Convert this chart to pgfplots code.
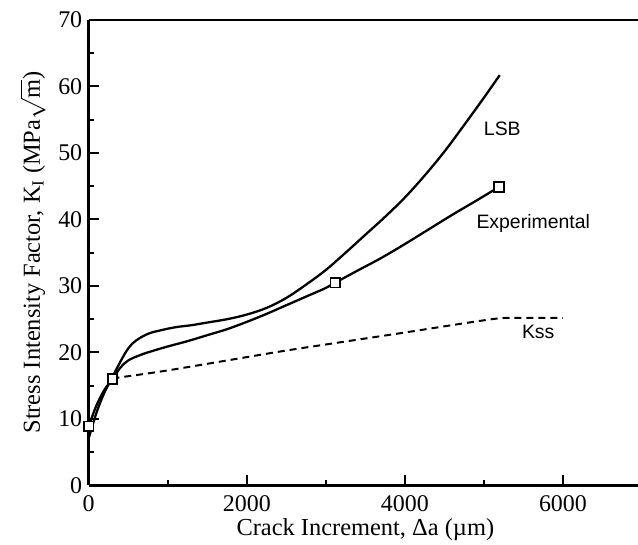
\documentclass[border=0pt]{standalone}
\usepackage{pgfplots}
\pgfplotsset{compat=1.18}
\usepackage{fontspec}
\setmainfont{Liberation Serif}
\newfontfamily\helv{Liberation Sans}
\begin{document}
\begin{tikzpicture}
\begin{axis}[
    width=555pt, height=467pt,
    scale only axis,
    xmin=0, xmax=7000,
    ymin=0, ymax=70,
    axis x line*=box, axis y line*=left,
    xtick={0,2000,4000,6000},
    ytick={0,10,...,70},
    xtick pos=left, ytick pos=left,
    minor x tick num=1, minor y tick num=1,
    tick align=inside,
    major tick length=10pt, minor tick length=5pt,
    every tick/.style={line width=2pt, black},
    axis line style={line width=2.6pt},
    scaled x ticks=false,
    xticklabel style={/pgf/number format/set thousands separator={}, yshift=-7pt},
    yticklabel style={xshift=-3pt},
    /pgf/number format/assume math mode=true,
    tick label style={font=\fontsize{24}{26}\selectfont},
    xlabel={Crack Increment, Δa (µm)},
    ylabel={Stress Intensity Factor, K\textsubscript{I} (MPa$\sqrt{\mathrm{m}}$)},
    label style={font=\fontsize{24.5}{27}\selectfont},
    xlabel style={yshift=0pt},
    ylabel style={inner sep=1pt, yshift=8pt},
    clip=false,
]
\coordinate (bl) at (rel axis cs:0,0);
\coordinate (tl) at (rel axis cs:0,1);
% LSB
\addplot[black, line width=2.3pt, smooth, tension=0.6] coordinates {
(0,7.1) (100,11.0) (200,14.0) (300,16.3) (400,18.6) (500,20.6) (600,21.8)
(750,22.8) (900,23.3) (1100,23.8) (1300,24.1) (1500,24.5) (1750,25.0)
(2000,25.7) (2250,26.7) (2500,28.2) (2750,30.2) (3000,32.4) (3250,35.0)
(3500,37.7) (3750,40.4) (4000,43.3) (4250,46.6) (4500,50.2) (4750,54.2)
(5000,58.3) (5200,61.7)};
% Experimental
\addplot[black, line width=2.3pt, smooth, tension=0.6] coordinates {
(0,8.9) (100,12.1) (200,14.4) (300,16.0) (400,17.7) (500,18.8) (650,19.6)
(800,20.2) (1000,20.9) (1250,21.7) (1500,22.6) (1750,23.5) (2000,24.6)
(2250,25.8) (2500,27.1) (2750,28.4) (3000,29.7) (3120,30.5) (3400,32.3)
(3700,34.2) (4000,36.3) (4300,38.5) (4600,40.7) (4900,42.8) (5193,44.9)};
\addplot[only marks, mark=square*, mark size=4.8pt, mark options={fill=white, draw=black, line width=1.8pt}] coordinates {
(0,8.9) (300,16.0) (3120,30.5) (5193,44.9)};
% Kss
\addplot[black, line width=2pt, dash pattern=on 7pt off 5pt, smooth, tension=0.4] coordinates {
(300,16.1) (1000,17.3) (2400,20.1) (3000,21.2) (4000,23) (4700,24.3)
(5100,25) (5300,25.2) (6000,25.2)};
\node[font=\helv\fontsize{19.5}{22}\selectfont] at (axis cs:5233,53.7) {LSB};
\node[font=\helv\fontsize{19.5}{22}\selectfont] at (axis cs:5624,39.4) {Experimental};
\node[font=\helv\fontsize{19.5}{22}\selectfont] at (axis cs:5687,23.1) {Kss};
\end{axis}
\pgfresetboundingbox
\path[use as bounding box] ([xshift=-89pt,yshift=-59pt]bl) rectangle ([xshift=551pt,yshift=20pt]tl);
\end{tikzpicture}
\end{document}
